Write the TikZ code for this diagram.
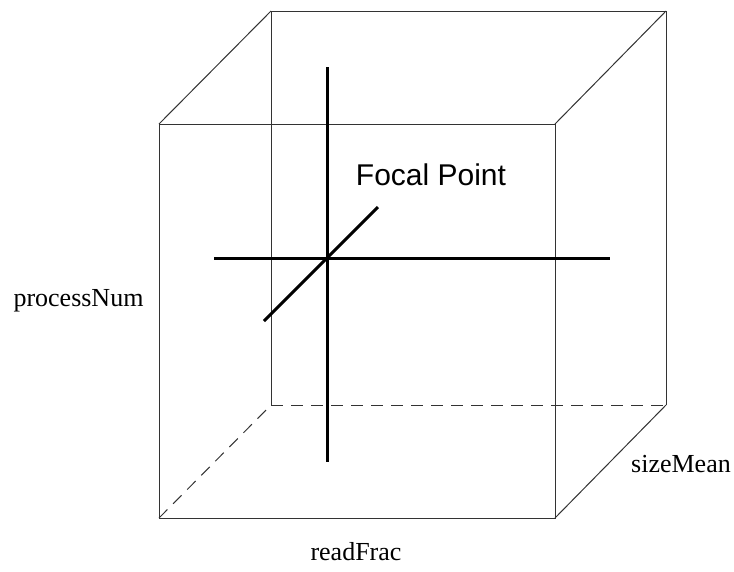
\documentclass[tikz,border=0pt]{standalone}
\usepackage{fontspec}
\setmainfont{Liberation Serif}
\newfontfamily\labsans{Liberation Sans}
\begin{document}
\begin{tikzpicture}[x=1pt,y=-1pt,
  edge/.style={line width=1pt,black!80},
  hidden/.style={line width=1pt,black!80,dash pattern=on 12pt off 8pt},
  axis/.style={line width=3pt,black},
  lab/.style={font=\fontsize{26}{30}\selectfont,inner sep=0pt,anchor=base},
  focal/.style={font=\labsans\fontsize{30}{34}\selectfont,inner sep=0pt,anchor=base}]
\useasboundingbox (0,0) rectangle (734,571);
% front face
\coordinate (f1) at (159,518);
\coordinate (f2) at (555,518);
\coordinate (f3) at (555,124);
\coordinate (f4) at (159,124);
% back face
\coordinate (b1) at (271,405);
\coordinate (b2) at (666,405);
\coordinate (b3) at (666,11);
\coordinate (b4) at (271,11);
\draw[edge] (f1) -- (f2) -- (f3) -- (f4) -- cycle;
\draw[edge] (b1) -- (b4) -- (b3) -- (b2);
\draw[edge] (f4) -- (b4);
\draw[edge] (f3) -- (b3);
\draw[edge] (f2) -- (b2);
\draw[hidden] (b1) -- (b2);
\draw[hidden] (f1) -- (b1);
% focal axes
\coordinate (c) at (327,258);
\coordinate (vt) at (327,67);
\coordinate (vb) at (327,462);
\coordinate (hl) at (214,258);
\coordinate (hr) at (610,258);
\coordinate (dl) at (264,321);
\coordinate (du) at (378,207);
\draw[axis] (vt) -- (vb);
\draw[axis] (hl) -- (hr);
\draw[axis] (dl) -- (du);
% labels
\node[focal] (fp) at (431,185) {Focal Point};
\node[lab] (pn) at (78.5,306) {processNum};
\node[lab] (sm) at (681,472) {sizeMean};
\node[lab] (rf) at (356,560) {readFrac};
\end{tikzpicture}
\end{document}
